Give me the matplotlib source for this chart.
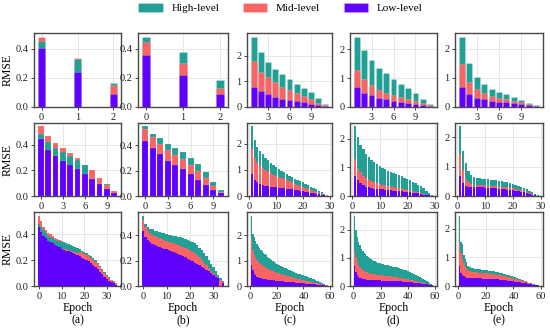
import matplotlib
matplotlib.use('Agg')
import matplotlib.pyplot as plt
from matplotlib.patches import Patch
from matplotlib.ticker import FormatStrFormatter

plt.rcParams['font.family'] = ['Liberation Serif', 'DejaVu Serif']

C_HIGH = '#22a095'
C_MID = '#fa6464'
C_LOW = '#6000ff'
labels = ['High-level', 'Mid-level', 'Low-level']
panel_letters = ['(a)', '(b)', '(c)', '(d)', '(e)']

# ---------------- Row 1 ----------------
x_r1ab = [0, 1, 2]
a1_high = [0.452, 0.333, 0.166]
a1_mid = [0.485, 0.336, 0.152]
a1_low = [0.407, 0.239, 0.092]
b1_high = [0.485, 0.377, 0.183]
b1_mid = [0.446, 0.303, 0.131]
b1_low = [0.360, 0.223, 0.092]

x_r1cde = [1, 2, 3, 4, 5, 6, 7, 8, 9, 10, 11]
c1_high = [2.76, 2.14, 1.75, 1.50, 1.29, 1.09, 0.89, 0.75, 0.57, 0.34, 0.13]
c1_mid = [1.79, 1.38, 1.16, 0.96, 0.79, 0.66, 0.55, 0.42, 0.30, 0.17, 0.08]
c1_low = [0.80, 0.61, 0.49, 0.39, 0.33, 0.26, 0.22, 0.18, 0.12, 0.08, 0.04]
d1_high = [2.44, 1.98, 1.64, 1.36, 1.16, 0.98, 0.80, 0.65, 0.48, 0.28, 0.12]
d1_mid = [1.27, 0.97, 0.76, 0.60, 0.49, 0.42, 0.34, 0.28, 0.20, 0.13, 0.07]
d1_low = [0.68, 0.49, 0.40, 0.30, 0.26, 0.22, 0.16, 0.13, 0.09, 0.06, 0.03]
e1_high = [2.41, 1.49, 1.02, 0.78, 0.62, 0.52, 0.43, 0.34, 0.25, 0.15, 0.07]
e1_mid = [1.46, 0.85, 0.60, 0.47, 0.38, 0.32, 0.28, 0.22, 0.16, 0.10, 0.05]
e1_low = [0.69, 0.43, 0.31, 0.28, 0.22, 0.18, 0.16, 0.13, 0.10, 0.06, 0.02]

# ---------------- Row 2 ----------------
x_r2ab = [0, 1, 2, 3, 4, 5, 6, 7, 8, 9, 10]
a2_high = [0.485, 0.421, 0.377, 0.343, 0.312, 0.284, 0.240, 0.199, 0.140, 0.090, 0.040]
a2_mid = [0.542, 0.470, 0.415, 0.372, 0.335, 0.294, 0.245, 0.199, 0.140, 0.085, 0.038]
a2_low = [0.446, 0.361, 0.312, 0.274, 0.245, 0.212, 0.173, 0.134, 0.095, 0.052, 0.021]
b2_high = [0.547, 0.485, 0.459, 0.408, 0.377, 0.346, 0.302, 0.253, 0.186, 0.111, 0.046]
b2_mid = [0.531, 0.465, 0.413, 0.364, 0.325, 0.294, 0.240, 0.194, 0.139, 0.077, 0.034]
b2_low = [0.434, 0.374, 0.328, 0.276, 0.245, 0.209, 0.170, 0.129, 0.088, 0.046, 0.021]

x_r2cde = list(range(1, 30))
c2_high = [2.67, 2.16, 1.87, 1.72, 1.60, 1.47, 1.37, 1.28, 1.19, 1.12, 1.03, 0.97, 0.91, 0.84, 0.78,
           0.72, 0.67, 0.62, 0.57, 0.52, 0.47, 0.42, 0.36, 0.31, 0.26, 0.20, 0.14, 0.08, 0.03]
c2_mid = [1.81, 1.47, 1.28, 1.16, 1.07, 0.99, 0.93, 0.87, 0.82, 0.77, 0.72, 0.68, 0.64, 0.60, 0.56,
          0.52, 0.48, 0.44, 0.40, 0.36, 0.32, 0.28, 0.24, 0.20, 0.16, 0.12, 0.08, 0.05, 0.02]
c2_low = [0.84, 0.62, 0.52, 0.45, 0.42, 0.39, 0.38, 0.35, 0.34, 0.33, 0.31, 0.30, 0.29, 0.28, 0.26,
          0.25, 0.23, 0.22, 0.20, 0.19, 0.17, 0.15, 0.13, 0.11, 0.09, 0.07, 0.05, 0.03, 0.01]
d2_high = [2.42, 2.05, 1.79, 1.62, 1.47, 1.36, 1.27, 1.18, 1.11, 1.04, 0.98, 0.93, 0.88, 0.84, 0.80,
           0.76, 0.72, 0.68, 0.64, 0.60, 0.55, 0.50, 0.45, 0.40, 0.34, 0.27, 0.18, 0.09, 0.03]
d2_mid = [1.28, 0.99, 0.82, 0.71, 0.63, 0.56, 0.51, 0.47, 0.44, 0.41, 0.39, 0.37, 0.35, 0.33, 0.31,
          0.29, 0.27, 0.25, 0.23, 0.21, 0.19, 0.17, 0.15, 0.13, 0.10, 0.08, 0.05, 0.03, 0.01]
d2_low = [0.71, 0.54, 0.45, 0.38, 0.33, 0.30, 0.28, 0.26, 0.25, 0.24, 0.23, 0.22, 0.21, 0.20, 0.19,
          0.18, 0.17, 0.16, 0.15, 0.14, 0.13, 0.12, 0.10, 0.09, 0.07, 0.05, 0.03, 0.02, 0.01]
e2_high = [2.36, 1.52, 1.13, 0.86, 0.72, 0.66, 0.62, 0.60, 0.59, 0.58, 0.57, 0.56, 0.55, 0.54, 0.52,
           0.50, 0.48, 0.46, 0.44, 0.41, 0.38, 0.35, 0.31, 0.27, 0.23, 0.18, 0.12, 0.06, 0.02]
e2_mid = [1.43, 0.88, 0.58, 0.46, 0.41, 0.38, 0.37, 0.36, 0.36, 0.35, 0.35, 0.34, 0.34, 0.33, 0.32,
          0.31, 0.30, 0.29, 0.27, 0.26, 0.24, 0.22, 0.20, 0.17, 0.14, 0.11, 0.07, 0.04, 0.01]
e2_low = [0.69, 0.43, 0.34, 0.32, 0.31, 0.30, 0.30, 0.29, 0.29, 0.28, 0.28, 0.27, 0.27, 0.26, 0.25,
          0.24, 0.23, 0.22, 0.21, 0.20, 0.18, 0.16, 0.14, 0.12, 0.10, 0.07, 0.05, 0.02, 0.01]

# ---------------- Row 3 ----------------
x_r3ab = list(range(0, 35))
a3_high = [0.482, 0.46, 0.43, 0.41, 0.39, 0.38, 0.37, 0.36, 0.35, 0.345, 0.34, 0.338, 0.332, 0.325,
           0.318, 0.31, 0.302, 0.293, 0.283, 0.273, 0.263, 0.253, 0.243, 0.23, 0.215, 0.198, 0.178,
           0.157, 0.133, 0.108, 0.086, 0.066, 0.047, 0.035, 0.025]
a3_mid = [0.546, 0.50, 0.46, 0.43, 0.41, 0.40, 0.385, 0.375, 0.365, 0.355, 0.345, 0.29, 0.285, 0.28,
          0.27, 0.265, 0.26, 0.255, 0.265, 0.26, 0.25, 0.24, 0.23, 0.218, 0.203, 0.186, 0.167, 0.147,
          0.124, 0.10, 0.08, 0.06, 0.043, 0.03, 0.02]
a3_low = [0.456, 0.42, 0.39, 0.37, 0.35, 0.34, 0.33, 0.32, 0.31, 0.30, 0.29, 0.28, 0.275, 0.27, 0.26,
          0.255, 0.25, 0.24, 0.23, 0.22, 0.21, 0.20, 0.19, 0.18, 0.165, 0.15, 0.13, 0.11, 0.09, 0.07,
          0.055, 0.04, 0.03, 0.02, 0.01]
b3_high = [0.553, 0.49, 0.465, 0.45, 0.444, 0.433, 0.428, 0.422, 0.417, 0.412, 0.407, 0.403, 0.399,
           0.394, 0.390, 0.386, 0.381, 0.375, 0.368, 0.361, 0.355, 0.345, 0.334, 0.318, 0.30, 0.282,
           0.258, 0.232, 0.204, 0.175, 0.146, 0.115, 0.086, 0.062, 0.042]
b3_mid = [0.517, 0.46, 0.433, 0.413, 0.40, 0.39, 0.383, 0.376, 0.369, 0.362, 0.355, 0.348, 0.341,
          0.335, 0.328, 0.321, 0.314, 0.306, 0.298, 0.29, 0.282, 0.27, 0.257, 0.242, 0.224, 0.204,
          0.184, 0.162, 0.138, 0.118, 0.099, 0.079, 0.06, 0.046, 0.034]
b3_low = [0.43, 0.386, 0.36, 0.342, 0.33, 0.321, 0.314, 0.307, 0.30, 0.294, 0.287, 0.28, 0.272, 0.265,
          0.257, 0.25, 0.242, 0.234, 0.225, 0.215, 0.204, 0.194, 0.184, 0.173, 0.162, 0.151, 0.139,
          0.125, 0.115, 0.099, 0.086, 0.073, 0.06, 0.047, 0.026]

x_r3cde = list(range(1, 59))
c3_high = [2.79, 2.07, 1.93, 1.80, 1.67, 1.58, 1.50, 1.42, 1.37, 1.32, 1.26, 1.21, 1.16, 1.12, 1.08,
           1.04, 1.00, 0.96, 0.92, 0.88, 0.85, 0.82, 0.80, 0.77, 0.75, 0.72, 0.70, 0.67, 0.65, 0.62,
           0.60, 0.58, 0.55, 0.53, 0.51, 0.49, 0.47, 0.46, 0.44, 0.42, 0.40, 0.38, 0.36, 0.34, 0.32,
           0.30, 0.28, 0.26, 0.23, 0.21, 0.19, 0.16, 0.14, 0.11, 0.09, 0.07, 0.05, 0.03]
c3_mid = [1.87, 1.41, 1.21, 1.10, 1.01, 0.95, 0.90, 0.86, 0.82, 0.78, 0.75, 0.72, 0.69, 0.66, 0.63,
          0.61, 0.59, 0.57, 0.55, 0.53, 0.51, 0.50, 0.48, 0.47, 0.45, 0.43, 0.42, 0.40, 0.39, 0.37,
          0.36, 0.34, 0.33, 0.31, 0.30, 0.29, 0.28, 0.26, 0.25, 0.24, 0.23, 0.21, 0.20, 0.18, 0.17,
          0.16, 0.15, 0.13, 0.12, 0.11, 0.10, 0.08, 0.07, 0.06, 0.05, 0.03, 0.02, 0.01]
c3_low = [0.84, 0.62, 0.49, 0.42, 0.37, 0.34, 0.32, 0.30, 0.29, 0.28, 0.27, 0.26, 0.25, 0.245, 0.24,
          0.235, 0.23, 0.22, 0.215, 0.21, 0.205, 0.20, 0.19, 0.185, 0.18, 0.175, 0.17, 0.165, 0.16,
          0.16, 0.15, 0.145, 0.14, 0.135, 0.13, 0.125, 0.12, 0.115, 0.11, 0.11, 0.10, 0.095, 0.09,
          0.085, 0.08, 0.075, 0.07, 0.065, 0.06, 0.05, 0.045, 0.04, 0.035, 0.03, 0.03, 0.02, 0.015, 0.01]
d3_high = [2.50, 2.00, 1.74, 1.56, 1.45, 1.33, 1.25, 1.18, 1.12, 1.06, 1.02, 0.98, 0.95, 0.92, 0.89,
           0.87, 0.85, 0.83, 0.81, 0.80, 0.79, 0.77, 0.76, 0.75, 0.74, 0.73, 0.72, 0.70, 0.69, 0.68,
           0.67, 0.66, 0.64, 0.63, 0.62, 0.60, 0.58, 0.57, 0.55, 0.53, 0.51, 0.49, 0.47, 0.44, 0.42,
           0.40, 0.37, 0.34, 0.32, 0.29, 0.26, 0.23, 0.21, 0.18, 0.15, 0.11, 0.08, 0.05]
d3_mid = [1.29, 1.03, 0.86, 0.74, 0.68, 0.62, 0.58, 0.54, 0.51, 0.49, 0.47, 0.46, 0.44, 0.43, 0.42,
          0.41, 0.40, 0.39, 0.385, 0.38, 0.375, 0.37, 0.36, 0.355, 0.35, 0.345, 0.34, 0.33, 0.325,
          0.32, 0.31, 0.305, 0.30, 0.29, 0.28, 0.27, 0.265, 0.26, 0.25, 0.24, 0.23, 0.22, 0.21, 0.20,
          0.19, 0.18, 0.17, 0.155, 0.14, 0.13, 0.12, 0.11, 0.095, 0.08, 0.07, 0.05, 0.035, 0.02]
d3_low = [0.71, 0.51, 0.39, 0.33, 0.29, 0.27, 0.26, 0.25, 0.235, 0.22, 0.22, 0.215, 0.215, 0.21, 0.21,
          0.205, 0.205, 0.20, 0.20, 0.20, 0.195, 0.195, 0.19, 0.19, 0.19, 0.185, 0.185, 0.18, 0.18,
          0.18, 0.175, 0.17, 0.17, 0.165, 0.16, 0.155, 0.15, 0.145, 0.14, 0.14, 0.135, 0.13, 0.125,
          0.12, 0.12, 0.11, 0.105, 0.10, 0.09, 0.08, 0.075, 0.07, 0.06, 0.055, 0.05, 0.04, 0.03, 0.02]
e3_high = [2.47, 1.55, 1.46, 1.08, 0.96, 0.85, 0.71, 0.67, 0.65, 0.64, 0.62, 0.61, 0.60, 0.60, 0.59,
           0.58, 0.57, 0.57, 0.56, 0.55, 0.55, 0.54, 0.53, 0.53, 0.52, 0.51, 0.50, 0.49, 0.48, 0.47,
           0.46, 0.45, 0.43, 0.42, 0.40, 0.39, 0.37, 0.35, 0.34, 0.32, 0.30, 0.29, 0.27, 0.26, 0.24,
           0.22, 0.20, 0.18, 0.16, 0.14, 0.12, 0.10, 0.09, 0.075, 0.06, 0.045, 0.03, 0.02]
e3_mid = [1.49, 1.14, 0.96, 0.79, 0.67, 0.61, 0.55, 0.53, 0.51, 0.49, 0.485, 0.48, 0.48, 0.475, 0.47,
          0.465, 0.46, 0.455, 0.45, 0.45, 0.445, 0.44, 0.43, 0.425, 0.42, 0.41, 0.40, 0.395, 0.39,
          0.38, 0.37, 0.36, 0.35, 0.34, 0.33, 0.32, 0.30, 0.29, 0.27, 0.26, 0.25, 0.24, 0.22, 0.21,
          0.20, 0.19, 0.17, 0.16, 0.14, 0.13, 0.12, 0.10, 0.08, 0.065, 0.05, 0.04, 0.025, 0.015]
e3_low = [0.71, 0.44, 0.38, 0.34, 0.32, 0.29, 0.285, 0.28, 0.28, 0.28, 0.275, 0.275, 0.27, 0.27, 0.27,
          0.265, 0.265, 0.26, 0.26, 0.26, 0.255, 0.255, 0.25, 0.25, 0.25, 0.245, 0.24, 0.235, 0.23,
          0.22, 0.215, 0.21, 0.205, 0.20, 0.20, 0.19, 0.18, 0.175, 0.17, 0.16, 0.155, 0.15, 0.14,
          0.135, 0.13, 0.12, 0.11, 0.10, 0.09, 0.08, 0.07, 0.06, 0.055, 0.045, 0.04, 0.03, 0.02, 0.01]

xticks_r1ab = [0, 1, 2]
xticks_r1cde = [3, 6, 9]
xticks_r2ab = [0, 3, 6, 9]
xticks_r2cde = [0, 10, 20, 30]
xticks_r3ab = [0, 10, 20, 30]
xticks_r3cde = [0, 20, 40, 60]
yticks_ab = [0.0, 0.2, 0.4]
yticks_cde = [0, 1, 2]

# layout (pixel boxes in a 550x328 canvas)
W, H = 550.0, 328.0
col_lr = [(34, 121), (138, 228), (247, 332), (350, 437), (455, 543)]
row_tb = [(33, 107), (123, 196), (212, 286)]

fig = plt.figure(figsize=(5.5, 3.28), dpi=100)

SPINE = '#4a4a4a'
EDGE = (1, 1, 1, 0.3)


def draw(ax, x, high, mid, low, width, lw):
    groups = []
    for vals, c in ((high, C_HIGH), (mid, C_MID), (low, C_LOW)):
        bc = ax.bar(x, vals, width=width, color=c, edgecolor=EDGE if lw > 0 else 'none',
                    linewidth=lw)
        groups.append((vals, bc))
    for i in range(len(x)):
        order = sorted(range(3), key=lambda k: -groups[k][0][i])
        for rank, k in enumerate(order):
            groups[k][1].patches[i].set_zorder(2 + rank)


panels = [
    [(x_r1ab, a1_high, a1_mid, a1_low, 0.2, xticks_r1ab, 0.4),
     (x_r1ab, b1_high, b1_mid, b1_low, 0.2, xticks_r1ab, 0.4),
     (x_r1cde, c1_high, c1_mid, c1_low, 0.8, xticks_r1cde, 0.4),
     (x_r1cde, d1_high, d1_mid, d1_low, 0.8, xticks_r1cde, 0.4),
     (x_r1cde, e1_high, e1_mid, e1_low, 0.8, xticks_r1cde, 0.4)],
    [(x_r2ab, a2_high, a2_mid, a2_low, 0.8, xticks_r2ab, 0.3),
     (x_r2ab, b2_high, b2_mid, b2_low, 0.8, xticks_r2ab, 0.3),
     (x_r2cde, c2_high, c2_mid, c2_low, 0.85, xticks_r2cde, 0),
     (x_r2cde, d2_high, d2_mid, d2_low, 0.85, xticks_r2cde, 0),
     (x_r2cde, e2_high, e2_mid, e2_low, 0.85, xticks_r2cde, 0)],
    [(x_r3ab, a3_high, a3_mid, a3_low, 1.0, xticks_r3ab, 0),
     (x_r3ab, b3_high, b3_mid, b3_low, 1.0, xticks_r3ab, 0),
     (x_r3cde, c3_high, c3_mid, c3_low, 1.0, xticks_r3cde, 0),
     (x_r3cde, d3_high, d3_mid, d3_low, 1.0, xticks_r3cde, 0),
     (x_r3cde, e3_high, e3_mid, e3_low, 1.0, xticks_r3cde, 0)],
]

for r in range(3):
    t, b = row_tb[r]
    for c in range(5):
        l, rr = col_lr[c]
        ax = fig.add_axes([l / W, 1 - b / H, (rr - l) / W, (b - t) / H])
        x, hi, mi, lo, wd, xt, lw = panels[r][c]
        draw(ax, x, hi, mi, lo, wd, lw)
        ax.set_axisbelow(True)
        ax.grid(True, color='#e3e3e3', linewidth=0.6)
        ax.set_xticks(xt)
        if c < 2:
            ax.set_yticks(yticks_ab)
            ax.yaxis.set_major_formatter(FormatStrFormatter('%.1f'))
        else:
            ax.set_yticks(yticks_cde)
        ax.tick_params(labelsize=7.5, length=2.5, width=0.6, pad=1.5, colors='#222222')
        for s in ax.spines.values():
            s.set_color(SPINE)
            s.set_linewidth(1.0)
        if c == 0:
            ax.set_ylabel('RMSE', fontsize=8.5)
            ax.yaxis.set_label_coords(-0.24, 0.5)
        if r == 2:
            ax.set_xlabel('Epoch\n' + panel_letters[c], fontsize=8.5, labelpad=1, linespacing=1.0)

handles = [Patch(facecolor=C_HIGH, edgecolor=EDGE, linewidth=0.4),
           Patch(facecolor=C_MID, edgecolor=EDGE, linewidth=0.4),
           Patch(facecolor=C_LOW, edgecolor=EDGE, linewidth=0.4)]
fig.legend(handles, labels, loc='upper center', bbox_to_anchor=(0.51, 1.02), ncol=3,
           frameon=False, fontsize=8, handlelength=2.2, handleheight=0.75,
           columnspacing=2.1, handletextpad=0.8)

fig.savefig('out.png', dpi=100)
